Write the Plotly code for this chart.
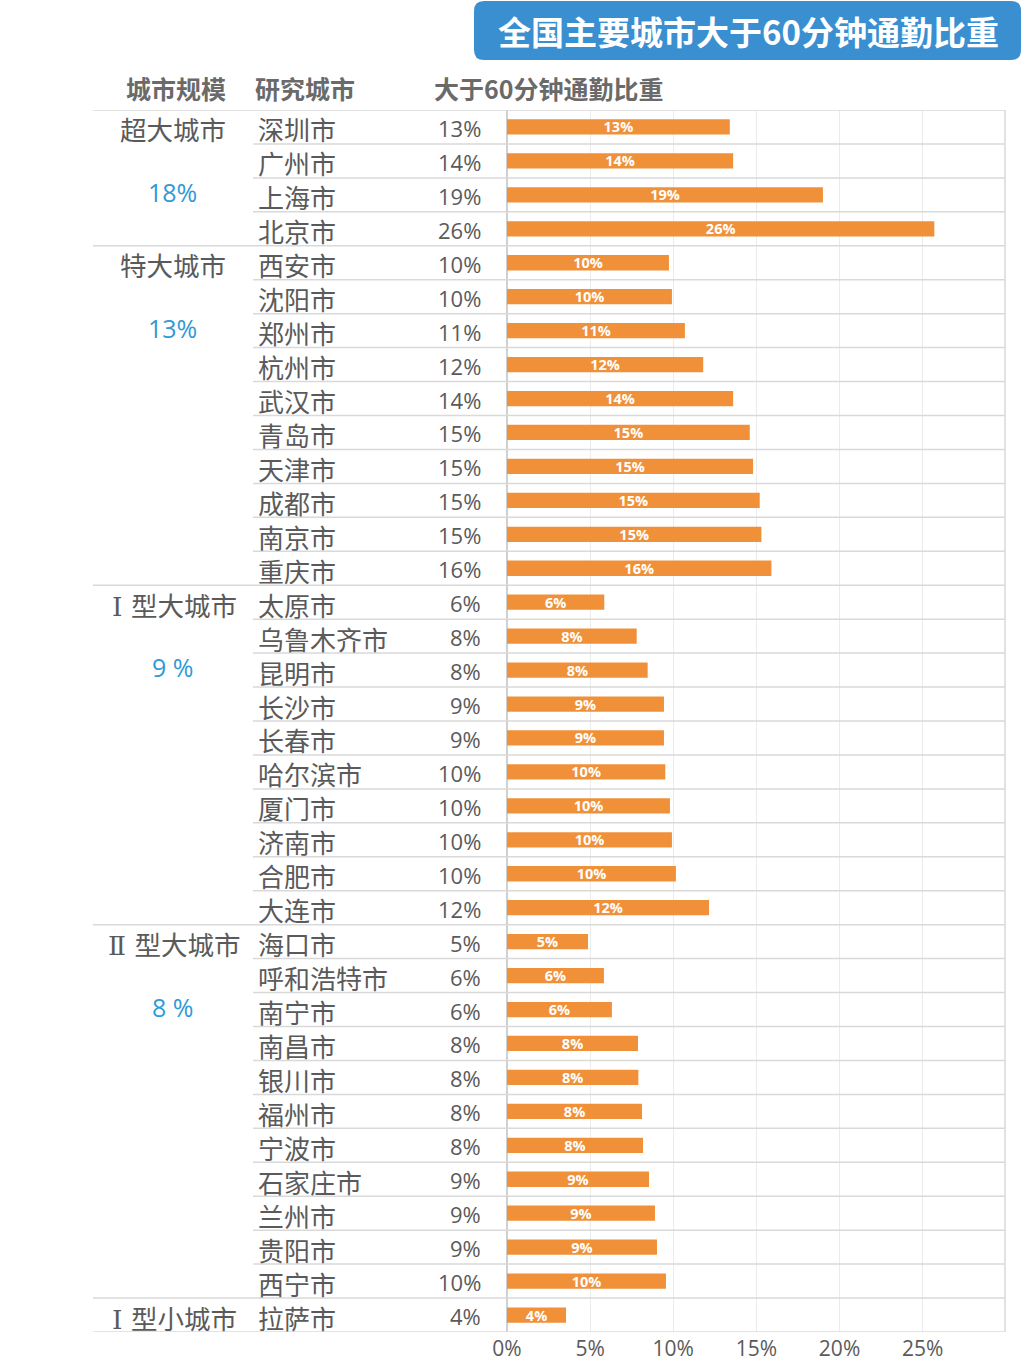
import plotly.graph_objects as go

W, H = 1023, 1361

# ---------------- data ----------------
cities = ["深圳市", "广州市", "上海市", "北京市",
          "西安市", "沈阳市", "郑州市", "杭州市", "武汉市", "青岛市", "天津市", "成都市", "南京市", "重庆市",
          "太原市", "乌鲁木齐市", "昆明市", "长沙市", "长春市", "哈尔滨市", "厦门市", "济南市", "合肥市", "大连市",
          "海口市", "呼和浩特市", "南宁市", "南昌市", "银川市", "福州市", "宁波市", "石家庄市", "兰州市", "贵阳市", "西宁市",
          "拉萨市"]
values = [13.4, 13.6, 19.0, 25.7,
          9.74, 9.92, 10.7, 11.8, 13.6, 14.6, 14.8, 15.2, 15.3, 15.9,
          5.85, 7.8, 8.46, 9.44, 9.44, 9.52, 9.8, 9.92, 10.16, 12.15,
          4.87, 5.83, 6.31, 7.88, 7.9, 8.12, 8.18, 8.54, 8.9, 9.02, 9.56,
          3.55]
value_labels = ["13%", "14%", "19%", "26%",
                "10%", "10%", "11%", "12%", "14%", "15%", "15%", "15%", "15%", "16%",
                "6%", "8%", "8%", "9%", "9%", "10%", "10%", "10%", "10%", "12%",
                "5%", "6%", "6%", "8%", "8%", "8%", "8%", "9%", "9%", "9%", "10%",
                "4%"]
group_prefix = ["", "", "Ⅰ", "Ⅱ", "Ⅰ"]
group_names = ["超大城市", "特大城市", "型大城市", "型大城市", "型小城市"]
group_sizes = [4, 10, 10, 11, 1]
group_avgs = ["18%", "13%", "9 %", "8 %", ""]
x_ticks = [0, 5, 10, 15, 20, 25]
x_tick_labels = ["0%", "5%", "10%", "15%", "20%", "25%"]
headers = ["城市规模", "研究城市", "大于60分钟通勤比重"]
title = "全国主要城市大于60分钟通勤比重"

# ---------------- styling ----------------
CJK = "Noto Sans CJK SC"
GRAY = "#5a5a5a"
HEAD_GRAY = "#6a6a6a"
BLUE_TXT = "#2f9ad6"
ORANGE = "#f0913a"
LINE = "#d9d9d9"


def xp(px):
    return px / W


def yp(py):
    return 1 - py / H


PLOT_L, PLOT_R = 507, 1005
PLOT_T, PLOT_B = 110, 1332

fig = go.Figure()
fig.add_trace(go.Bar(
    y=cities, x=values, orientation="h",
    marker=dict(color=ORANGE, line=dict(width=0)),
    width=0.45,
    text=value_labels, textposition="inside", insidetextanchor="middle",
    constraintext="none",
    textfont=dict(family="Open Sans", size=14.5, color="white", weight="bold"),
    hoverinfo="skip",
))

annotations = []
shapes = []

# title box (rounded rectangle)
x0, x1, y0, y1, r = 474, 1021, 1, 60, 10
path = (f"M {xp(x0 + r)} {yp(y0)} L {xp(x1 - r)} {yp(y0)} "
        f"Q {xp(x1)} {yp(y0)} {xp(x1)} {yp(y0 + r)} L {xp(x1)} {yp(y1 - r)} "
        f"Q {xp(x1)} {yp(y1)} {xp(x1 - r)} {yp(y1)} L {xp(x0 + r)} {yp(y1)} "
        f"Q {xp(x0)} {yp(y1)} {xp(x0)} {yp(y1 - r)} L {xp(x0)} {yp(y0 + r)} "
        f"Q {xp(x0)} {yp(y0)} {xp(x0 + r)} {yp(y0)} Z")
shapes.append(dict(type="path", xref="paper", yref="paper", path=path,
                   fillcolor="#3a8fd0", line=dict(width=0), layer="below"))
annotations.append(dict(x=xp(748), y=yp(31), xref="paper", yref="paper", text=title,
                        showarrow=False, xanchor="center", yanchor="middle",
                        font=dict(family=CJK, size=33, color="white", weight="bold")))

# headers
hdr_pos = [(176, "center"), (253, "left"), (432, "left")]
for (hx, anc), t in zip(hdr_pos, headers):
    annotations.append(dict(x=xp(hx), y=yp(88), xref="paper", yref="paper", text=t,
                            showarrow=False, xanchor=anc, yanchor="middle",
                            font=dict(family=CJK, size=25, color=HEAD_GRAY, weight="bold")))

# city names & values
for c, lab in zip(cities, value_labels):
    annotations.append(dict(x=xp(256), y=c, xref="paper", yref="y", text=c,
                            showarrow=False, xanchor="left", yanchor="middle", yshift=-2,
                            font=dict(family=CJK, size=26, color=GRAY)))
    annotations.append(dict(x=xp(483), y=c, xref="paper", yref="y", text=lab,
                            showarrow=False, xanchor="right", yanchor="middle", yshift=-1,
                            font=dict(family="Open Sans", size=22, color=GRAY)))

# group labels + separators
start = 0
n = len(cities)
for pre, name, size, avg in zip(group_prefix, group_names, group_sizes, group_avgs):
    label = name
    cx = 173
    if pre:
        label = f"<span style='font-family:DejaVu Serif'>{pre} </span>{name}"
        cx = 174
    annotations.append(dict(x=xp(cx), y=cities[start], xref="paper", yref="y", text=label,
                            showarrow=False, xanchor="center", yanchor="middle", yshift=-2,
                            font=dict(family=CJK, size=26.5, color=GRAY)))
    if avg:
        annotations.append(dict(x=xp(172), y=cities[start + 2], xref="paper", yref="y", text=avg,
                                showarrow=False, xanchor="center", yanchor="middle", yshift=3,
                                font=dict(family="Open Sans", size=25, color=BLUE_TXT)))
    # full-width line at top of group
    shapes.append(dict(type="line", xref="paper", yref="y", x0=xp(93), x1=xp(PLOT_R),
                       y0=start - 0.5, y1=start - 0.5, line=dict(color=LINE, width=1.5)))
    for k in range(start + 1, start + size):
        shapes.append(dict(type="line", xref="paper", yref="y", x0=xp(253), x1=xp(PLOT_R),
                           y0=k - 0.5, y1=k - 0.5, line=dict(color=LINE, width=1.5)))
    start += size
shapes.append(dict(type="line", xref="paper", yref="y", x0=xp(93), x1=xp(PLOT_R),
                   y0=n - 0.5, y1=n - 0.5, line=dict(color=LINE, width=1.5)))
# right border
shapes.append(dict(type="line", xref="paper", yref="paper", x0=xp(PLOT_R), x1=xp(PLOT_R),
                   y0=yp(PLOT_T), y1=yp(PLOT_B), line=dict(color=LINE, width=1.5)))

fig.update_layout(
    width=W, height=H,
    margin=dict(l=0, r=0, t=0, b=0),
    paper_bgcolor="white", plot_bgcolor="white",
    showlegend=False,
    bargap=0.5,
    xaxis=dict(domain=[xp(PLOT_L), xp(PLOT_R)], range=[0, 29.95],
               tickvals=x_ticks, ticktext=x_tick_labels,
               showgrid=True, gridcolor="#ebebeb", gridwidth=1,
               zeroline=True, zerolinecolor="#d0d0d0", zerolinewidth=1.5,
               showline=False, ticks="", automargin=False, ticklabelstandoff=2,
               tickfont=dict(family="Open Sans", size=21, color=GRAY)),
    yaxis=dict(domain=[yp(PLOT_B), yp(PLOT_T)], range=[n - 0.5, -0.5],
               categoryorder="array", categoryarray=cities,
               showticklabels=False, showgrid=False, zeroline=False, automargin=False),
    annotations=annotations,
    shapes=shapes,
)

fig.write_html("out.html", config={"displayModeBar": False},
               post_script="document.body.style.margin='0';document.body.style.padding='0';")
